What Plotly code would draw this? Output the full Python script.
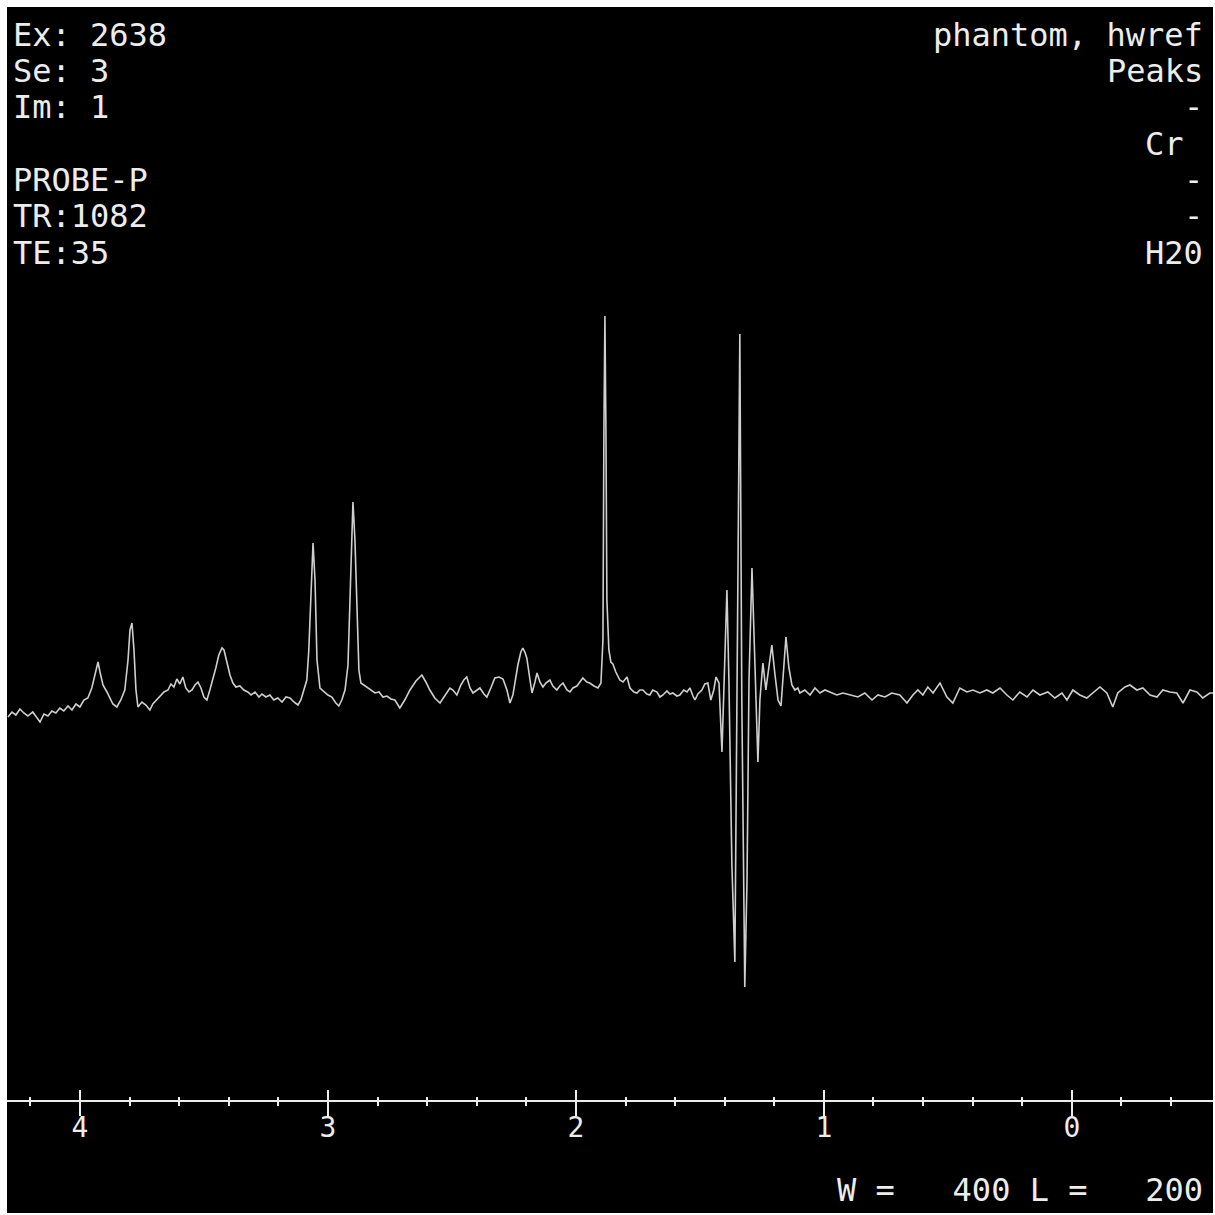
import plotly.graph_objects as go

# --- spectrum: chemical shift (ppm) and signal intensity (a.u.) ---
# 4.29 .. 2.73 ppm
shift_left = [
    4.290, 4.274, 4.258, 4.242, 4.226, 4.210, 4.190, 4.173, 4.161, 4.145,
    4.129, 4.113, 4.097, 4.081, 4.065, 4.048, 4.032, 4.016, 4.000, 3.984,
    3.968, 3.952, 3.935, 3.927, 3.919, 3.907, 3.891, 3.879, 3.867, 3.851,
    3.835, 3.819, 3.806, 3.798, 3.790, 3.782, 3.774, 3.766, 3.750, 3.734,
    3.718, 3.706, 3.690, 3.677, 3.661, 3.645, 3.633, 3.621, 3.609, 3.597,
    3.585, 3.573, 3.560, 3.548, 3.536, 3.524, 3.512, 3.500, 3.488, 3.476,
    3.464, 3.452, 3.440, 3.427, 3.419, 3.407, 3.395, 3.383, 3.371, 3.355,
    3.339, 3.323, 3.310, 3.294, 3.278, 3.266, 3.250, 3.234, 3.218, 3.202,
    3.185, 3.169, 3.153, 3.137, 3.121, 3.109, 3.097, 3.085, 3.077, 3.069,
    3.060, 3.052, 3.044, 3.032, 3.016, 3.000, 2.984, 2.968, 2.956, 2.944,
    2.931, 2.919, 2.911, 2.903, 2.899, 2.891, 2.883, 2.875, 2.867, 2.855,
    2.843, 2.827, 2.810, 2.794, 2.778, 2.762, 2.746, 2.730,
]
amp_left = [
    -17, -12, -15, -9, -13, -16, -12, -18, -22, -14,
    -16, -11, -13, -8, -11, -6, -10, -4, -7, 0,
    2, 12, 30, 38, 28, 15, 8, 2, -4, -7,
    0, 10, 40, 70, 77, 50, 10, -7, -2, -5,
    -10, -4, 0, 3, 8, 10, 16, 13, 21, 16,
    23, 12, 8, 10, 15, 18, 12, 3, 0, 10,
    20, 32, 45, 52, 50, 38, 25, 17, 13, 14,
    10, 8, 5, 8, 3, 6, 3, 5, 0, 2,
    -2, 3, 2, -2, -5, 0, 10, 20, 50, 110,
    157, 120, 40, 12, 8, 5, 3, -3, -6, 0,
    10, 35, 100, 180, 198, 160, 80, 30, 17, 15,
    13, 10, 7, 8, 3, 4, 1, 0,
]

# 2.71 .. 1.11 ppm
shift_mid = [
    2.710, 2.690, 2.669, 2.645, 2.621, 2.605, 2.589, 2.569, 2.548, 2.532,
    2.520, 2.508, 2.496, 2.480, 2.464, 2.452, 2.440, 2.427, 2.415, 2.399,
    2.387, 2.371, 2.359, 2.343, 2.327, 2.310, 2.294, 2.278, 2.266, 2.254,
    2.246, 2.234, 2.222, 2.214, 2.206, 2.198, 2.185, 2.177, 2.165, 2.157,
    2.145, 2.133, 2.121, 2.105, 2.093, 2.077, 2.065, 2.052, 2.036, 2.024,
    2.012, 1.996, 1.984, 1.972, 1.956, 1.944, 1.927, 1.911, 1.899, 1.891,
    1.887, 1.883, 1.879, 1.875, 1.867, 1.859, 1.851, 1.839, 1.823, 1.810,
    1.794, 1.782, 1.766, 1.754, 1.742, 1.730, 1.714, 1.702, 1.690, 1.673,
    1.661, 1.649, 1.633, 1.621, 1.609, 1.593, 1.581, 1.565, 1.552, 1.540,
    1.528, 1.520, 1.508, 1.492, 1.480, 1.468, 1.456, 1.444, 1.435, 1.423,
    1.411, 1.399, 1.391, 1.383, 1.371, 1.359, 1.351, 1.339, 1.331, 1.319,
    1.310, 1.302, 1.290, 1.282, 1.274, 1.266, 1.258, 1.246, 1.234, 1.222,
    1.210, 1.198, 1.185, 1.173, 1.161, 1.153, 1.141, 1.129, 1.117, 1.105,
]
amp_mid = [
    -8, 0, 10, 19, 25, 18, 10, 2, -3, 3,
    8, 12, 10, 5, 15, 20, 23, 12, 7, 10,
    12, 6, 3, 12, 22, 23, 21, 10, -3, 5,
    18, 35, 48, 52, 48, 42, 20, 7, 18, 27,
    18, 13, 17, 20, 14, 10, 14, 17, 10, 8,
    12, 14, 18, 22, 18, 17, 14, 12, 17, 60,
    270, 384, 273, 100, 50, 38, 36, 28, 20, 18,
    23, 12, 8, 7, 10, 10, 6, 5, 10, 8,
    3, 5, 9, 6, 7, 4, 5, 10, 8, 12,
    4, 0, 6, 10, 16, 17, 0, 10, 23, 17,
    -52, 60, 110, 20, -165, -262, 0, 366, 0, -287,
    -180, 20, 132, 70, 0, -62, 0, 37, 10, 34,
    55, 27, 0, -6, 35, 63, 32, 15, 10, 12,
]

# 1.10 .. -0.58 ppm
shift_right = [
    1.097, 1.077, 1.056, 1.036, 1.016, 0.996, 0.976, 0.948, 0.923, 0.895,
    0.863, 0.835, 0.806, 0.782, 0.754, 0.726, 0.694, 0.665, 0.641, 0.621,
    0.601, 0.581, 0.560, 0.532, 0.504, 0.480, 0.452, 0.423, 0.399, 0.371,
    0.343, 0.319, 0.290, 0.262, 0.238, 0.210, 0.181, 0.157, 0.129, 0.097,
    0.069, 0.040, 0.020, -0.004, -0.032, -0.060, -0.085, -0.113, -0.141, -0.165,
    -0.185, -0.214, -0.234, -0.262, -0.286, -0.315, -0.343, -0.367, -0.395, -0.423,
    -0.448, -0.476, -0.504, -0.528, -0.556, -0.577,
]
amp_right = [
    7, 10, 5, 12, 7, 10, 8, 5, 7, 5,
    3, 7, 0, 5, 3, 7, 5, -3, 5, 10,
    5, 13, 7, 17, 3, -3, 12, 8, 10, 7,
    10, 7, 12, 5, 0, 8, 3, 10, 5, 8,
    2, 7, 0, 10, 5, 2, 7, 13, 7, -7,
    7, 13, 15, 10, 12, 5, 3, 10, 8, 7,
    -3, 10, 8, 2, 7, 7,
]

# axis ticks (ppm)
major_ticks = [4, 3, 2, 1, 0]
tick_labels = ["4", "3", "2", "1", "0"]

# header / footer text
info_left = ["Ex: 2638", "Se: 3", "Im: 1", "", "PROBE-P", "TR:1082", "TE:35"]
info_right = ["phantom, hwref", "Peaks", "-", "Cr ", "-", "-", "H20"]
footer = "W =   400 L =   200"

shift = shift_left + shift_mid + shift_right
amp = amp_left + amp_mid + amp_right

FONT = "DejaVu Sans Mono"
FG = "#ececec"
W = H = 1215
ML, MR, MT, MB = 7, 2, 7, 2
PH = H - MT - MB


def py_to_paper(py):
    return (H - MB - py) / PH


def px_to_paper(px):
    return (px - ML) / (W - ML - MR)


def keep_spaces(s):
    return s.replace(" ", "\u00a0")


fig = go.Figure()
fig.add_trace(go.Scatter(
    x=shift, y=amp, mode="lines",
    line=dict(color="#cfcfcf", width=1.6),
    hoverinfo="skip", showlegend=False,
))
# empty trace so the upper tick axis is rendered
fig.add_trace(go.Scatter(x=[], y=[], xaxis="x2", yaxis="y",
                         showlegend=False, hoverinfo="skip"))

axis_pos = py_to_paper(1101)
x_range = [4.294, -0.569]

fig.update_layout(
    width=W, height=H,
    margin=dict(l=ML, r=MR, t=MT, b=MB, pad=0),
    paper_bgcolor="white",
    plot_bgcolor="black",
    showlegend=False,
    xaxis=dict(
        range=x_range, anchor="free", position=axis_pos,
        showgrid=False, zeroline=False,
        showline=True, linecolor=FG, linewidth=2,
        ticks="outside", ticklen=14, tickwidth=2, tickcolor=FG,
        tickvals=major_ticks, ticktext=tick_labels,
        ticklabelstandoff=-13,
        tickfont=dict(family=FONT, size=28, color=FG),
        minor=dict(dtick=0.2, ticks="outside", ticklen=4, tickwidth=2,
                   tickcolor=FG, showgrid=False),
    ),
    xaxis2=dict(
        range=x_range, overlaying="x", anchor="free", position=axis_pos,
        showgrid=False, zeroline=False, showline=False,
        ticks="inside", ticklen=11, tickwidth=2, tickcolor=FG,
        tickvals=major_ticks, showticklabels=False,
        minor=dict(dtick=0.2, ticks="inside", ticklen=4, tickwidth=2,
                   tickcolor=FG, showgrid=False),
    ),
    yaxis=dict(range=[-513, 693], visible=False, fixedrange=True),
)

row_centers = [35, 71, 107, 144, 180, 216, 253]
annotations = []
for text, yc in zip(info_left, row_centers):
    if text:
        annotations.append(dict(
            text=keep_spaces(text), xref="paper", yref="paper",
            x=px_to_paper(11), y=py_to_paper(yc),
            xanchor="left", yanchor="middle", showarrow=False,
            font=dict(family=FONT, size=32, color=FG)))
for text, yc in zip(info_right, row_centers):
    annotations.append(dict(
        text=keep_spaces(text), xref="paper", yref="paper",
        x=px_to_paper(1205), y=py_to_paper(yc),
        xanchor="right", yanchor="middle", showarrow=False,
        font=dict(family=FONT, size=32, color=FG)))
annotations.append(dict(
    text=keep_spaces(footer), xref="paper", yref="paper",
    x=px_to_paper(1205), y=py_to_paper(1190),
    xanchor="right", yanchor="middle", showarrow=False,
    font=dict(family=FONT, size=32, color=FG)))
fig.update_layout(annotations=annotations)

fig.write_html("out.html")
